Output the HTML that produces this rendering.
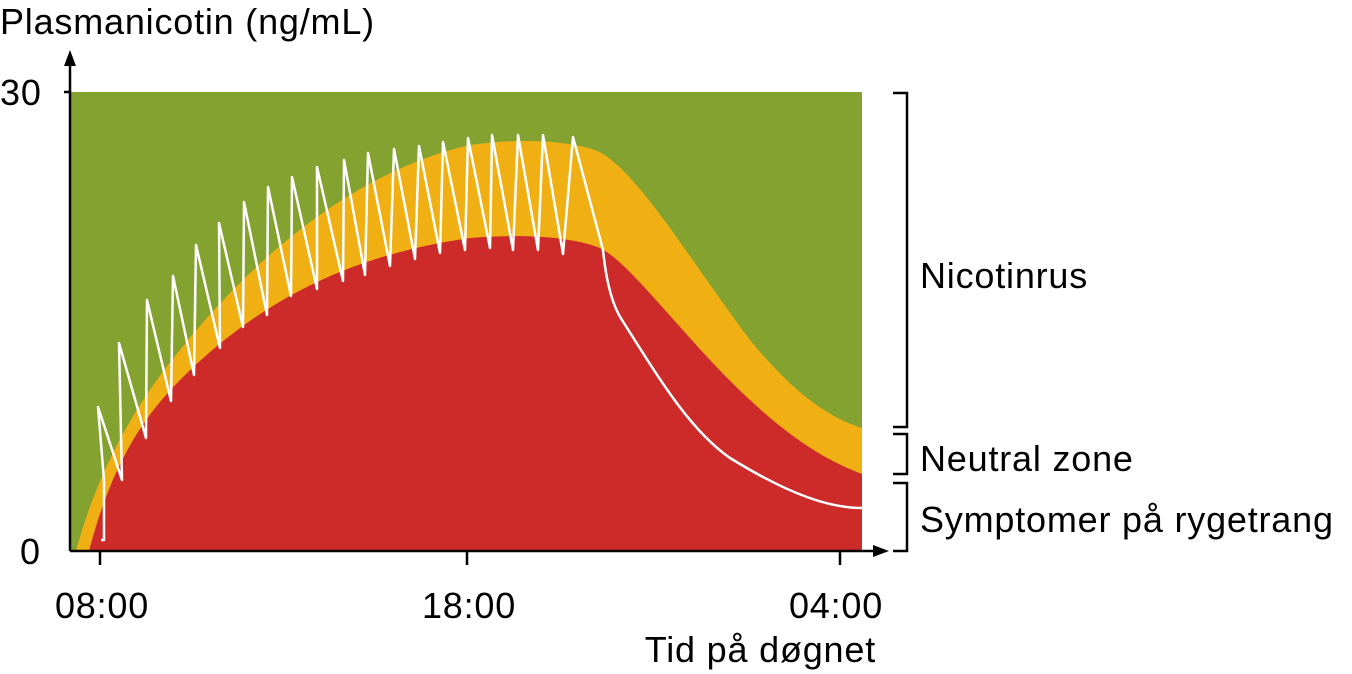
<!DOCTYPE html>
<html><head><meta charset="utf-8"><style>
html,body{margin:0;padding:0;background:#fff;}
svg{display:block;font-family:"Liberation Sans","DejaVu Sans",sans-serif;}
</style></head><body>
<svg width="1352" height="674" viewBox="0 0 1352 674" xmlns="http://www.w3.org/2000/svg">
<rect x="70" y="92" width="792" height="459" fill="#84a22f"/>
<path d="M76,551 C95,480 130,410 180,350 C260,250 360,170 470,145 C520,138 570,140 600,152 C640,175 690,260 750,340 C795,395 830,418 862,428 L862,551 Z" fill="#f0b014"/>
<path d="M89,551 C110,470 140,420 180,380 C260,300 350,255 470,238 C520,234 570,236 600,248 C630,262 690,345 750,400 C795,442 830,462 862,474 L862,551 Z" fill="#cc2b2a"/>
<path d="M101,540 L104,540 L104,480 L98,407 L122,480 L119,343 L146,438 L147,300 L171,401 L173,276 L194,375 L196,245 L220,348 L219,223 L243,327 L244,202 L267,315 L268,187 L291,296 L292,177 L317,289 L317,167 L343,281 L344,160 L365,275 L368,153 L390,266 L394,149 L415,259 L419,146 L440,253 L443,142 L465,250 L468,138 L490,248 L492,135 L513,250 L518,135 L538,250 L543,135 L563,254 L573,137 L603,250 C606,280 612,305 622,320 C660,380 690,430 730,458 C790,495 830,508 862,508" fill="none" stroke="#fff" stroke-width="2.5" stroke-linejoin="round"/>
<g stroke="#000" stroke-width="2.5" fill="none">
<line x1="70" y1="551" x2="70" y2="60"/>
<line x1="70" y1="551" x2="878" y2="551"/>
<line x1="64" y1="92" x2="70" y2="92"/>
<line x1="100" y1="551" x2="100" y2="565"/>
<line x1="467" y1="551" x2="467" y2="565"/>
<line x1="840" y1="551" x2="840" y2="565"/>
<path d="M893,93 H907 V427 H893"/>
<path d="M893,434 H907 V474 H893"/>
<path d="M893,483 H907 V551 H893"/>
</g>
<path d="M70,50 L64,66 L76,66 Z" fill="#000"/>
<path d="M889,551 L873,545 L873,557 Z" fill="#000"/>
<g font-size="36" fill="#000" letter-spacing="0.8">
<text x="0" y="34">Plasmanicotin (ng/mL)</text>
<text x="0" y="105">30</text>
<text x="20" y="564">0</text>
<text x="102" y="618" text-anchor="middle">08:00</text>
<text x="469" y="618" text-anchor="middle">18:00</text>
<text x="836" y="618" text-anchor="middle">04:00</text>
<text x="876" y="662" text-anchor="end">Tid på døgnet</text>
<text x="920" y="288">Nicotinrus</text>
<text x="920" y="471">Neutral zone</text>
<text x="920" y="532">Symptomer på rygetrang</text>
</g>
</svg>
</body></html>
